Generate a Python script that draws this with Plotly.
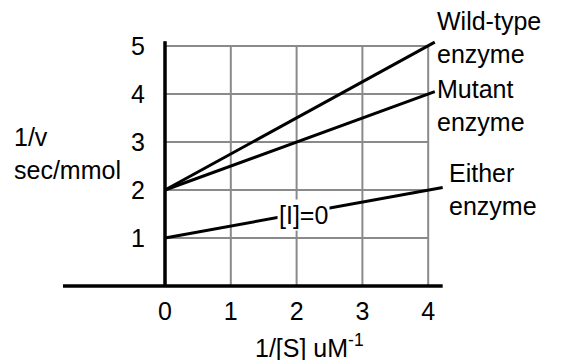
import plotly.graph_objects as go

# ---- data ----
x_ticks = [0, 1, 2, 3, 4]
y_ticks = [1, 2, 3, 4, 5]

wild_x = [0, 4.1]
wild_y = [2, 5.08]
mutant_x = [0, 4.1]
mutant_y = [2, 4.05]
either_x = [0, 4.22]
either_y = [1, 2.05]

W, H = 563, 360
# pixel mapping used to choose ranges (x=0 at 165px, 65.8 px/unit; y=0 at 286px, 48 px/unit)
x0_px, xs = 165, 65.8
y0_px, ys = 286, 48
x_range = [-x0_px / xs, (W - x0_px) / xs]
y_range = [(y0_px - H) / ys, y0_px / ys]

FONT = "Liberation Sans, Arial, sans-serif"
FS = 25
GRID = "#8a8a8a"

fig = go.Figure()

for xs_, ys_ in [(wild_x, wild_y), (mutant_x, mutant_y), (either_x, either_y)]:
    fig.add_trace(go.Scatter(x=xs_, y=ys_, mode="lines",
                             line=dict(color="black", width=3),
                             showlegend=False, hoverinfo="skip", cliponaxis=False))

shapes = []
# grid
for xv in x_ticks[1:]:
    shapes.append(dict(type="line", xref="x", yref="y", x0=xv, x1=xv, y0=0, y1=max(y_ticks),
                       line=dict(color=GRID, width=2), layer="below"))
for yv in y_ticks:
    shapes.append(dict(type="line", xref="x", yref="y", x0=0, x1=max(x_ticks), y0=yv, y1=yv,
                       line=dict(color=GRID, width=2), layer="below"))
# axes
shapes.append(dict(type="line", xref="x", yref="y", x0=-1.55, x1=4.22, y0=0, y1=0,
                   line=dict(color="black", width=3.5), layer="below"))
shapes.append(dict(type="line", xref="x", yref="y", x0=0, x1=0, y0=0, y1=5.1,
                   line=dict(color="black", width=3.5), layer="below"))

ann = []
def A(text, x, y, xanchor="left", yanchor="middle", align="left", **kw):
    ann.append(dict(text=text, x=x, y=y, xref="x", yref="y", showarrow=False,
                    xanchor=xanchor, yanchor=yanchor, align=align,
                    font=dict(family=FONT, size=FS, color="black"), **kw))

A("Wild-type<br>enzyme", 4.1, 5.18)
A("Mutant<br>enzyme", 4.1, 3.77)
A("Either<br>enzyme", 4.28, 2.01)
A("1/v<br>sec/mmol", -2.33, 2.77)
A("1/[S] uM<sup>-1</sup>", 2.2, -1.24, xanchor="center")
A("[I]=0", 2.1, 1.47, xanchor="center", bgcolor="white", borderpad=1)

fig.update_layout(
    width=W, height=H, autosize=False,
    margin=dict(l=0, r=0, t=0, b=0),
    paper_bgcolor="white", plot_bgcolor="white",
    shapes=shapes, annotations=ann,
    font=dict(family=FONT, size=FS, color="black"),
    xaxis=dict(range=x_range, domain=[0, 1], anchor="free", position=(H - y0_px) / H,
               tickvals=x_ticks, ticktext=[str(v) for v in x_ticks],
               showgrid=False, zeroline=False, showline=False, ticks="",
               tickfont=dict(family=FONT, size=FS, color="black"), ticklabelstandoff=8,
               fixedrange=True),
    yaxis=dict(range=y_range, domain=[0, 1], anchor="free", position=x0_px / W,
               tickvals=y_ticks, ticktext=[str(v) for v in y_ticks],
               showgrid=False, zeroline=False, showline=False, ticks="",
               tickfont=dict(family=FONT, size=FS, color="black"), ticklabelstandoff=20,
               fixedrange=True),
)

fig.write_html("out.html", config={"displayModeBar": False},
               post_script="document.body.style.margin='0';")
